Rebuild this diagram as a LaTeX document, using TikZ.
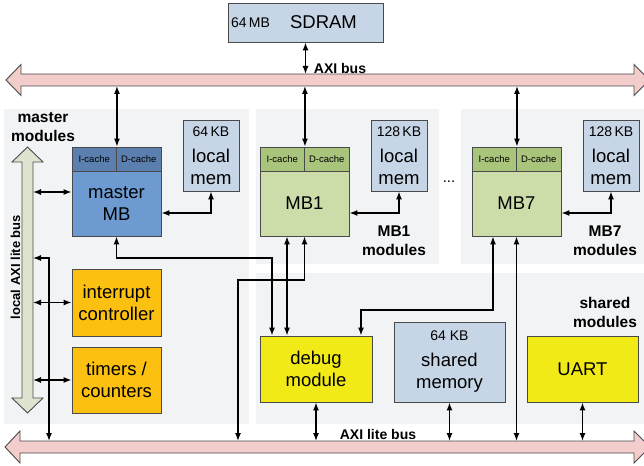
\documentclass[tikz,border=0pt]{standalone}
\usepackage{fontspec}
\setmainfont{Liberation Sans}
\usetikzlibrary{arrows.meta}
\definecolor{buspink}{HTML}{F2CDCC}
\definecolor{busline}{HTML}{4A4A4A}
\definecolor{regionbg}{HTML}{F2F3F5}
\definecolor{localbus}{HTML}{DEE3D0}
\definecolor{mbblue}{HTML}{6D9BD1}
\definecolor{mbbluedark}{HTML}{5B80AF}
\definecolor{mbgreen}{HTML}{CDDDAA}
\definecolor{mbgreendark}{HTML}{A9C47B}
\definecolor{memblue}{HTML}{C7D6E6}
\definecolor{ctrlorange}{HTML}{FCC010}
\definecolor{dbgyellow}{HTML}{F2EA17}
\newcommand\bigtxt{\fontsize{18.5}{22}\selectfont}
\newcommand\smalltxt{\fontsize{14}{16}\selectfont}
\newcommand\tinytxt{\fontsize{9.5}{11}\selectfont}
\newcommand\boldtxt{\fontsize{15.5}{19}\selectfont\bfseries}
\tikzset{
    box/.style={draw=busline, line width=0.9pt, inner sep=0pt, align=center, font=\bigtxt},
    cache/.style={box, font=\tinytxt, minimum width=44.5pt, minimum height=24pt},
    modlbl/.style={font=\boldtxt, align=center, inner sep=0pt},
    buslbl/.style={font=\fontsize{14}{16}\selectfont\bfseries, inner sep=0pt}
}

\begin{document}
\begin{tikzpicture}[x=1pt, y=-1pt,
        link/.style={>={Latex[length=8pt,width=6pt]}, <->, line width=1.3pt}]
        \useasboundingbox (0,0) rectangle (644,465);
        \fill[regionbg] (4,109) rectangle (249,424);
        \fill[regionbg] (256,109) rectangle (439,264);
        \fill[regionbg] (461,109) rectangle (644,264);
        \fill[regionbg] (256,273) rectangle (644,424);

        \filldraw[fill=buspink, draw=busline, line width=0.9pt]
            (6,80) -- (21,64.5) -- (21,74) -- (634,74) -- (634,64.5) -- (649.5,80)
            -- (634,95.5) -- (634,86) -- (21,86) -- (21,95.5) -- cycle;
        \filldraw[fill=buspink, draw=busline, line width=0.9pt]
            (5,447) -- (20,431) -- (20,441) -- (634,441) -- (634,431) -- (650,447)
            -- (634,463) -- (634,453) -- (20,453) -- (20,463) -- cycle;
        \filldraw[fill=localbus, draw=busline, line width=0.9pt]
            (27.5,147) -- (43,162) -- (33,162) -- (33,398) -- (43,398) -- (27.5,413)
            -- (12,398) -- (22,398) -- (22,162) -- (12,162) -- cycle;
        \coordinate (axitop) at (0,74);
        \coordinate (axibot) at (0,86);
        \coordinate (axil) at (0,441);

        \node[buslbl] (axilbl) at (340,68) {AXI bus};
        \node[buslbl] (axillbl) at (378,434) {AXI lite bus};
        \node[buslbl, font=\fontsize{13}{15}\selectfont\bfseries, rotate=90] (lbuslbl) at (15.5,267) {local AXI lite bus};

        \node[modlbl] (mlbl) at (43,127) {master\\modules};
        \node[modlbl] (m1lbl) at (394,241) {MB1\\modules};
        \node[modlbl] (m7lbl) at (605,241) {MB7\\modules};
        \node[modlbl] (shlbl) at (605,312) {shared\\modules};

        \node[box, fill=memblue, minimum width=155pt, minimum height=39pt,
            label={[font=\smalltxt, anchor=west]west:64\,MB}] (sdram) at (305.5,22.5) {\hspace*{36pt}SDRAM};

        \node[box, fill=mbblue, minimum width=89pt, minimum height=65pt] (mmb) at (116.5,203.5) {master\\MB};
        \node[cache, fill=mbbluedark] (mic) at (94.25,159) {I-cache};
        \node[cache, fill=mbbluedark] (mdc) at (138.75,159) {D-cache};
        \foreach \n/\x in {1/304.5, 7/516.5} {
            \node[box, fill=mbgreen, minimum width=89pt, minimum height=65pt] (m\n) at (\x,203.5) {MB\n};
            \node[cache, fill=mbgreendark] (ic\n) at (\x-22.25,159) {I-cache};
            \node[cache, fill=mbgreendark] (dc\n) at (\x+22.25,159) {D-cache};
        }
        \foreach \n/\x/\s in {0/211/64, 1/399/128, 7/611/128}
            \node[box, fill=memblue, minimum width=56pt, minimum height=71pt] (lm\n) at (\x,155.5)
                {{\smalltxt \s\,KB}\\[4pt]local\\mem};
        \node[font=\fontsize{15}{15}\selectfont, inner sep=0pt] (dots) at (449,182) {...};

        \node[box, fill=ctrlorange, minimum width=89pt, minimum height=67pt] (intc) at (116.5,302.5) {interrupt\\controller};
        \node[box, fill=ctrlorange, minimum width=89pt, minimum height=66pt] (tmr) at (116.5,380) {timers /\\counters};
        \node[box, fill=dbgyellow, minimum width=112pt, minimum height=66pt] (dbg) at (316,369) {debug\\module};
        \node[box, fill=memblue, minimum width=111pt, minimum height=80pt] (shm) at (449.5,362)
            {{\smalltxt 64 KB}\\[4pt]shared\\memory};
        \node[box, fill=dbgyellow, minimum width=111pt, minimum height=66pt] (uart) at (582.5,369) {UART};

        \draw[link] (sdram.south) -- (sdram.south |- axitop);
        \draw[link] (mic.north east) -- (mic.north east |- axibot);
        \draw[link] ([yshift=-9.5pt]mmb.east) -| (lm0.south);
        \foreach \n in {1,7} {
            \draw[link] (ic\n.north east) -- (ic\n.north east |- axibot);
            \draw[link] ([yshift=-9.5pt]m\n.east) -| (lm\n.south);
        }

        \coordinate (lbus) at (33,192);
        \coordinate (lbtap) at (33,258);
        \coordinate (lbjn) at (49,258);
        \draw[link] (lbus) -- (lbus -| mmb.west);
        \draw[link] (intc.west) -- (intc.west -| lbus);
        \draw[link] (tmr.west) -- (tmr.west -| lbus);
        \draw[link] (lbtap) -- (lbjn) -- (lbjn |- axil);

        \coordinate (dA) at ([xshift=-44pt]dbg.north);
        \coordinate (dB) at ([xshift=-29pt]dbg.north);
        \coordinate (dC) at ([xshift=45pt]dbg.north);
        \coordinate (m1jn) at (238,280);
        \coordinate (m7jn) at (361,310);
        \draw[link] (mmb.south) |- (dA |- lbtap) -- (dA);
        \draw[link] (dB |- m1.south) -- (dB);
        \draw[link] (m1.south) |- (m1jn) -- (m1jn |- axil);
        \draw[link] ([xshift=-23.5pt]m7.south) |- (m7jn) -- (dC);
        \draw[link] (m7.south) -- (m7.south |- axil);
        \foreach \n in {dbg,shm,uart}
            \draw[link] (\n.south) -- (\n.south |- axil);
\end{tikzpicture}
\end{document}
